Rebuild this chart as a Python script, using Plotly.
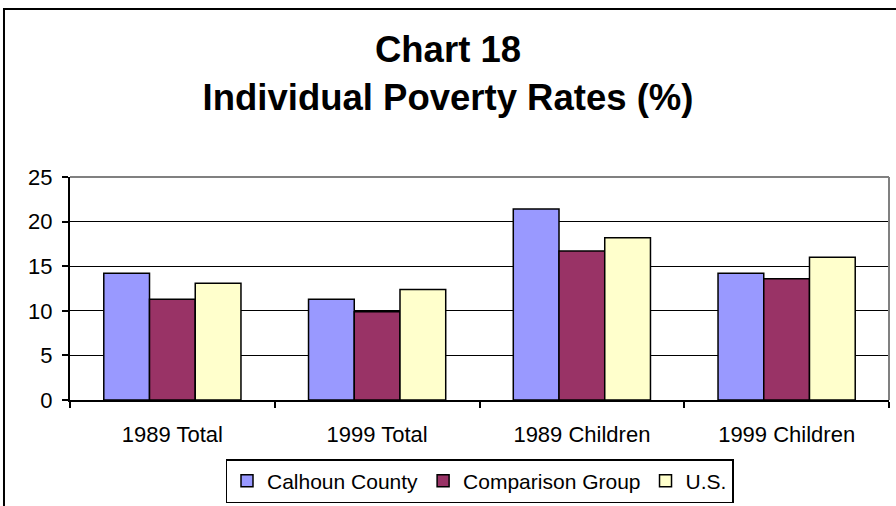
import plotly.graph_objects as go

categories = ["1989 Total", "1999 Total", "1989 Children", "1999 Children"]
calhoun = [14.2, 11.3, 21.4, 14.2]
comparison = [11.3, 9.9, 16.7, 13.6]
us = [13.1, 12.4, 18.2, 16.0]

series = [
    ("Calhoun County", calhoun, "#9999FF"),
    ("Comparison Group", comparison, "#993366"),
    ("U.S.", us, "#FFFFCC"),
]

font = "Liberation Sans, Arial, sans-serif"

fig = go.Figure()
for name, vals, color in series:
    fig.add_trace(go.Bar(
        x=categories, y=vals, name=name,
        marker=dict(color=color, line=dict(color="black", width=1.5)),
    ))

# outer chart frame (runs off the right and bottom edges)
fig.add_shape(type="rect", xref="paper", yref="paper",
              x0=-0.0806, y0=-0.6, x1=1.2, y1=1.753,
              line=dict(color="black", width=2), layer="below")
# gray top/right plot border
fig.add_shape(type="line", xref="paper", yref="paper", x0=0, x1=1, y0=1, y1=1,
              line=dict(color="#808080", width=2))
fig.add_shape(type="line", xref="paper", yref="paper", x0=1, x1=1, y0=0, y1=1,
              line=dict(color="#808080", width=2))

fig.update_layout(
    width=896, height=506,
    barmode="group", bargap=0.33, bargroupgap=0,
    title=dict(text="<b>Chart 18<br>Individual Poverty Rates (%)</b>",
               x=0.5, xanchor="center", yref="container", y=0.877,
               yanchor="middle",
               font=dict(family=font, size=36.5, color="black")),
    font=dict(family=font, size=22, color="black"),
    margin=dict(l=70, r=7, t=177, b=106, autoexpand=False),
    paper_bgcolor="white", plot_bgcolor="white",
    xaxis=dict(showline=True, linecolor="black", linewidth=2,
               ticks="outside", tickson="boundaries", ticklen=6,
               tickcolor="black", tickwidth=2, showgrid=False,
               ticklabelstandoff=14, tickfont=dict(size=22)),
    yaxis=dict(range=[0, 25], dtick=5, showline=True, linecolor="black",
               linewidth=2, ticks="outside", ticklen=6, tickcolor="black",
               tickwidth=2, showgrid=True, gridcolor="black", gridwidth=1,
               zeroline=False, ticklabelstandoff=5, tickfont=dict(size=22)),
    legend=dict(orientation="h", x=0.5, xanchor="center",
                yref="container", y=3 / 506, yanchor="bottom",
                bordercolor="black", borderwidth=1.5,
                font=dict(size=21), itemwidth=30, traceorder="normal",
                tracegroupgap=0),
)

fig.write_html("out.html", config={"displayModeBar": False},
               post_script="document.body.style.margin='0';")
